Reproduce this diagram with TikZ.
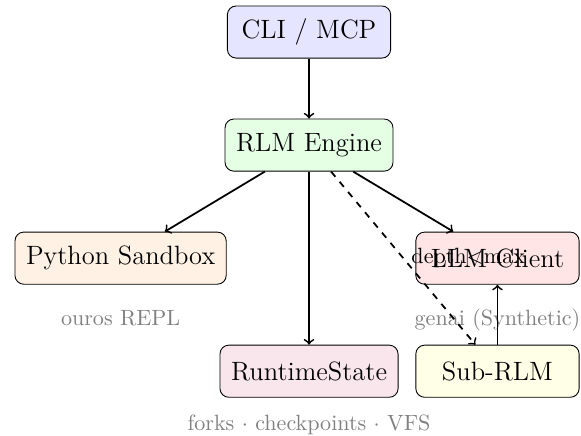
\documentclass[tikz,border=0pt]{standalone}

\begin{document}
\begin{tikzpicture}[
  >=to,
  box/.style  = {
    draw, rounded corners,
    align=center,
    font=\large,
    inner sep=5pt,
    minimum width=\boxw,
    minimum height=\boxh
  },
  note/.style = {text=gray, anchor=base},
  flow/.style = {->, thick}
]

% ---- constants ----
\def\dx{3}        % column offset
\def\dy{1.8}      % row step
\def\boxw{26mm}   % min width for every box
\def\boxh{8.3mm}  % min height for every box

\useasboundingbox (-4.92,0.51) rectangle (4.33,-6.43);

% ---- nodes ----
\node[box, fill=blue!10]   (cli)   at (0,0)           {CLI / MCP};
\node[box, fill=green!10]  (eng)   at (0,-\dy)        {RLM Engine};
\node[box, fill=orange!10] (py)    at (-\dx,-2*\dy)   {Python Sandbox};
\node[box, fill=red!10]    (llm)   at (\dx,-2*\dy)    {LLM Client};
\node[box, fill=purple!10] (state) at (0,-3*\dy)      {RuntimeState};
\node[box, fill=yellow!10] (sub)   at (\dx,-3*\dy)    {Sub-RLM};

% ---- notes ----
\node[note] (pynote)    at (-\dx,-4.67) {ouros REPL};
\node[note] (llmnote)   at (\dx,-4.67)  {genai (Synthetic)};
\node[note] (statenote) at (0,-6.34)    {forks $\cdot$ checkpoints $\cdot$ VFS};

% ---- arrows ----
\draw[flow] (cli) -- (eng);
\draw[flow] (eng) -- (py);
\draw[flow] (eng) -- (llm);
\draw[flow] (eng) -- (state);
\draw[flow, dashed] (eng) -- node[midway, right] {depth$<$max} (sub);
\draw[flow] (sub) -- (llm);

\end{tikzpicture}
\end{document}
